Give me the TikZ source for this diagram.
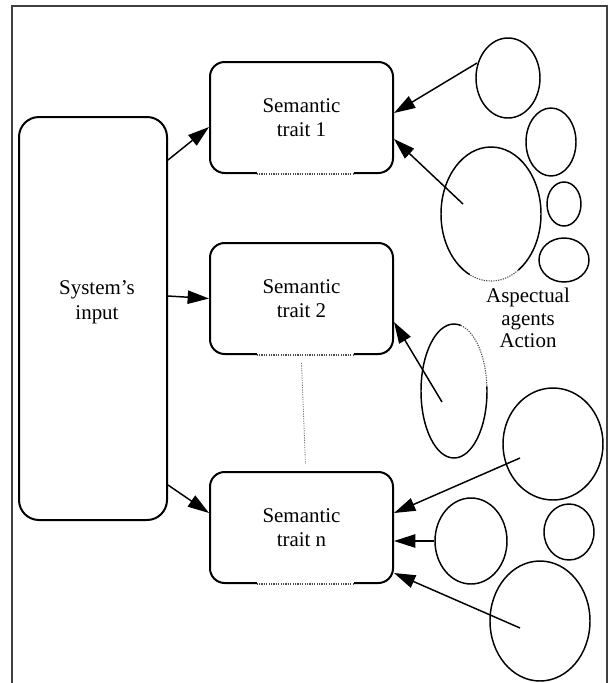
\documentclass[tikz,border=0pt]{standalone}
\usepackage{fontspec}
\setmainfont{Liberation Serif}
\usetikzlibrary{arrows.meta,shapes.geometric,calc}

\tikzset{
  trait/.style={draw, line width=1.5pt, rounded corners=11pt, minimum width=137.25pt,
    minimum height=83.25pt, inner sep=0pt, align=center, font=\fontsize{15.7}{18.5}\selectfont},
  agent/.style={draw, line width=1.1pt, ellipse, inner sep=0pt},
  link/.style={line width=1.1pt, -{Triangle[length=16pt,width=10pt]}},
  gap/.style={white, line width=2.4pt},
  faint/.style={black!70, line width=0.8pt, dash pattern=on 0.9pt off 0.9pt},
  lbl/.style={align=center, font=\fontsize{15.7}{17}\selectfont, inner sep=0pt}
}

\begin{document}
\begin{tikzpicture}[x=0.75pt,y=-0.75pt]
\useasboundingbox (0,0) rectangle (610,683);

% open frame
\coordinate (fbl) at (12,683);
\coordinate (ftl) at (12,6);
\coordinate (ftr) at (607,6);
\coordinate (fbr) at (607,683);
\draw[line width=0.9pt, black!75] (fbl) -- (ftl) -- (ftr) -- (fbr);

% input column
\node[draw, line width=1.5pt, rounded corners=15pt, minimum width=111pt,
      minimum height=302.25pt, inner sep=0pt] (sys) at (93,318.5) {};
\node[lbl, font=\fontsize{15.7}{18.5}\selectfont] (systxt) at (97,302) {System's\\input};

% semantic traits
\node[trait] (t1) at (301.5,117.5) {Semantic\\trait 1};
\node[trait] (t2) at (301.5,298.5) {Semantic\\trait 2};
\node[trait] (tn) at (301.5,527.5) {Semantic\\trait n};

% dotted stretches on the bottom edges of the trait boxes
\foreach \b in {t1,t2,tn}{
  \draw[gap] ($(\b.south)+(-45,0)$) -- ($(\b.south)+(52,0)$);
  \draw[faint] ($(\b.south)+(-45,0)$) -- ($(\b.south)+(52,0)$);
}

% dotted link between trait 2 and trait n
\draw[faint, line width=0.6pt, black!55] ($(t2.south)+(0,8)$) -- ($(tn.north)+(4,-7)$);

% aspectual agents
\node[agent, minimum width=48pt, minimum height=60pt] (e1) at (508,78) {};
\node[agent, minimum width=37.5pt, minimum height=51pt] (e2) at (551,142) {};
\node[agent, minimum width=75pt, minimum height=100.5pt] (e3) at (491,214) {};
\node[agent, minimum width=25.5pt, minimum height=33pt] (e4) at (564,204) {};
\node[agent, minimum width=37.5pt, minimum height=33pt] (e5) at (564,260) {};
\node[agent, minimum width=49.5pt, minimum height=100.5pt] (e6) at (454,391) {};
\node[agent, minimum width=75pt, minimum height=84pt] (e7) at (553,444) {};
\node[agent, minimum width=54pt, minimum height=64.5pt] (e8) at (471,541) {};
\node[agent, minimum width=37.5pt, minimum height=42pt] (e9) at (569,532) {};
\node[agent, minimum width=75pt, minimum height=90pt] (e10) at (540,621) {};

% dotted arcs on two of the agents
\coordinate (e3a) at ($(e3.center)+({50*cos(57)},{67*sin(57)})$);
\draw[gap] (e3a) arc[start angle=57, end angle=115, x radius=50, y radius=67];
\draw[faint] (e3a) arc[start angle=57, end angle=115, x radius=50, y radius=67];
\coordinate (e6a) at ($(e6.center)+({33*cos(-78)},{67*sin(-78)})$);
\draw[gap] (e6a) arc[start angle=-78, end angle=-4, x radius=33, y radius=67];
\draw[faint] (e6a) arc[start angle=-78, end angle=-4, x radius=33, y radius=67];

\node[lbl] (asp) at (528,318) {Aspectual\\agents\\Action};

% input to traits
\draw[link] ($(sys.north east)+(0,44)$) -- ($(t1.west)+(0,9.5)$);
\draw[link] ($(sys.east)+(0,-22.5)$) -- (t2.west);
\draw[link] ($(sys.south east)+(0,-36)$) -- ($(tn.west)+(0,-14.5)$);

% agents to traits
\coordinate (s1) at ($(e1.center)+(-31,-15)$);
\coordinate (s3) at ($(e3.center)+(-28,-10)$);
\coordinate (s6) at ($(e6.center)+(-12,11)$);
\coordinate (s7) at ($(e7.center)+(-33,14)$);
\coordinate (s10) at ($(e10.center)+(-20,7)$);
\draw[link] (s1) -- ($(t1.east)+(0,-4.5)$);
\draw[link] (s3) -- ($(t1.east)+(0,21.5)$);
\draw[link] (s6) -- ($(t2.east)+(0,23.5)$);
\draw[link] (s7) -- ($(tn.east)+(0,-14.5)$);
\draw[link] (e8.west) -- (tn.east |- e8.west);
\draw[link] (s10) -- ($(tn.east)+(0,45.5)$);
\end{tikzpicture}
\end{document}
